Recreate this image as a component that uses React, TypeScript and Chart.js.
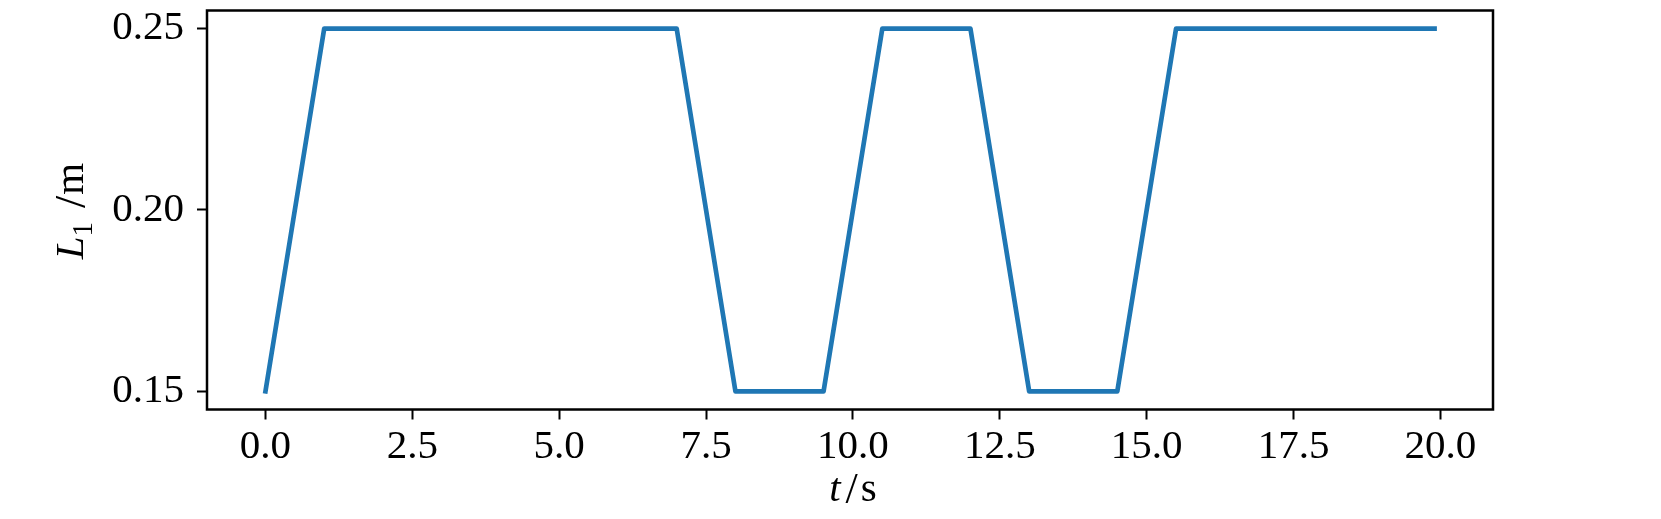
import React, { useEffect, useRef } from "react";
import { Chart, registerables } from "chart.js";

Chart.register(...registerables);

const timeValues = [0, 1, 7, 8, 9.5, 10.5, 12, 13, 14.5, 15.5, 19.9];
const lengthValues = [0.15, 0.25, 0.25, 0.15, 0.15, 0.25, 0.25, 0.15, 0.15, 0.25, 0.25];
const xTickValues = [0, 2.5, 5, 7.5, 10, 12.5, 15, 17.5, 20];
const xTickLabels = ["0.0", "2.5", "5.0", "7.5", "10.0", "12.5", "15.0", "17.5", "20.0"];
const yTickValues = [0.15, 0.2, 0.25];
const yTickLabels = ["0.15", "0.20", "0.25"];

const FONT = '"Liberation Serif", "Times New Roman", serif';

type Part = { text: string; font: string; dy: number; gap: number };
const yTitleParts: Part[] = [
  { text: "L", font: `italic 41px ${FONT}`, dy: 0, gap: 0 },
  { text: "1", font: `29px ${FONT}`, dy: 9, gap: 0 },
  { text: "/", font: `44px ${FONT}`, dy: 2, gap: 14 },
  { text: "m", font: `41px ${FONT}`, dy: 0, gap: 1 },
];
const xTitleParts: Part[] = [
  { text: "t", font: `italic 41px ${FONT}`, dy: 0, gap: 0 },
  { text: "/", font: `44px ${FONT}`, dy: 2, gap: 5 },
  { text: "s", font: `41px ${FONT}`, dy: 0, gap: 3 },
];

function drawParts(ctx: CanvasRenderingContext2D, parts: Part[], cx: number, baseline: number) {
  let total = 0;
  const widths = parts.map((p) => {
    ctx.font = p.font;
    const w = ctx.measureText(p.text).width;
    total += w + p.gap;
    return w;
  });
  let x = cx - total / 2;
  ctx.textAlign = "left";
  ctx.textBaseline = "alphabetic";
  ctx.fillStyle = "#000";
  parts.forEach((p, i) => {
    ctx.font = p.font;
    x += p.gap;
    ctx.fillText(p.text, x, baseline + p.dy);
    x += widths[i];
  });
}

const framePlugin = {
  id: "frameAndTitles",
  afterDraw(chart: any) {
    const { ctx, chartArea } = chart;
    ctx.save();
    ctx.strokeStyle = "#000";
    ctx.lineWidth = 2.5;
    ctx.lineJoin = "miter";
    ctx.strokeRect(
      chartArea.left,
      chartArea.top,
      chartArea.right - chartArea.left,
      chartArea.bottom - chartArea.top
    );
    drawParts(ctx, xTitleParts, (chartArea.left + chartArea.right) / 2 + 3, 501);
    ctx.translate(83, (chartArea.top + chartArea.bottom) / 2 + 1);
    ctx.rotate(-Math.PI / 2);
    drawParts(ctx, yTitleParts, 0, 0);
    ctx.restore();
  },
};

export default function App() {
  const canvasRef = useRef<HTMLCanvasElement | null>(null);

  useEffect(() => {
    if (!canvasRef.current) return;
    const chart = new Chart(canvasRef.current, {
      type: "line",
      data: {
        datasets: [
          {
            data: timeValues.map((t, i) => ({ x: t, y: lengthValues[i] })),
            borderColor: "#1f77b4",
            borderWidth: 4.7,
            pointRadius: 0,
            tension: 0,
            borderJoinStyle: "round",
            borderCapStyle: "square",
            fill: false,
          },
        ],
      },
      options: {
        animation: false,
        responsive: true,
        maintainAspectRatio: false,
        layout: { autoPadding: false, padding: { left: 0, top: 10.5, right: 168, bottom: 0 } },
        plugins: { legend: { display: false }, tooltip: { enabled: false } },
        scales: {
          x: {
            type: "linear",
            min: -0.995,
            max: 20.895,
            afterFit: (s: any) => {
              s.height = 109.5;
              s.paddingLeft = 0;
              s.paddingRight = 0;
            },
            afterBuildTicks: (s: any) => {
              s.ticks = xTickValues.map((v) => ({ value: v }));
            },
            border: { display: false },
            grid: {
              display: true,
              drawOnChartArea: false,
              drawTicks: true,
              tickLength: 10,
              tickWidth: 2,
              tickColor: "#000",
              color: "#000",
            },
            ticks: {
              autoSkip: false,
              maxRotation: 0,
              padding: 3,
              color: "#000",
              font: { family: FONT, size: 41 },
              callback: (_v: any, i: number) => xTickLabels[i],
            },
          },
          y: {
            type: "linear",
            min: 0.145,
            max: 0.255,
            afterFit: (s: any) => {
              s.width = 207;
              s.paddingTop = 0;
              s.paddingBottom = 0;
            },
            afterBuildTicks: (s: any) => {
              s.ticks = yTickValues.map((v) => ({ value: v }));
            },
            border: { display: false },
            grid: {
              display: true,
              drawOnChartArea: false,
              drawTicks: true,
              tickLength: 10,
              tickWidth: 2,
              tickColor: "#000",
              color: "#000",
            },
            ticks: {
              autoSkip: false,
              padding: 13,
              color: "#000",
              font: { family: FONT, size: 41 },
              callback: (_v: any, i: number) => yTickLabels[i],
            },
          },
        },
      },
      plugins: [framePlugin],
    });
    return () => chart.destroy();
  }, []);

  return (
    <div
      style={{
        position: "fixed",
        left: 0,
        top: 0,
        width: 1661,
        height: 519,
        background: "#fff",
      }}
    >
      <canvas ref={canvasRef} />
    </div>
  );
}
